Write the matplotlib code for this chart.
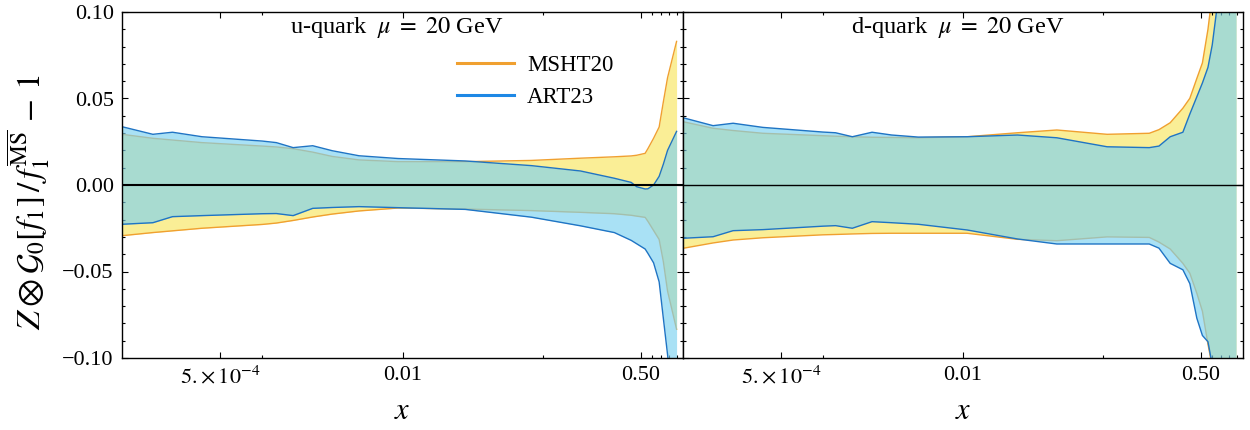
import numpy as np
import matplotlib
matplotlib.use("Agg")
import matplotlib.pyplot as plt
from matplotlib.lines import Line2D
from matplotlib.ticker import FixedLocator, FixedFormatter, MultipleLocator

plt.rcParams['font.family'] = ['Liberation Serif', 'DejaVu Serif']
plt.rcParams['mathtext.fontset'] = 'stix'

# ---------------- data ----------------
# u-quark panel
x_u = [1.0e-4, 1.66e-4, 2.29e-4, 3.72e-4, 1.0e-3, 1.26e-3, 1.66e-3, 2.29e-3,
       3.16e-3, 4.9e-3, 9.3e-3, 0.028, 0.083, 0.186, 0.324, 0.427, 0.468,
       0.537, 0.562, 0.617, 0.676, 0.724, 0.776, 0.90]
u_art_up = [0.0337, 0.0293, 0.0305, 0.0279, 0.0254, 0.0245, 0.0216, 0.0227,
            0.0198, 0.0169, 0.0153, 0.0139, 0.0112, 0.0081, 0.0039, 0.0015,
            -0.0010, -0.0023, -0.0022, 0.0000, 0.0050, 0.0120, 0.0200, 0.0310]
u_art_lo = [-0.0227, -0.0218, -0.0183, -0.0177, -0.0166, -0.0165, -0.0177,
            -0.0135, -0.0130, -0.0125, -0.0131, -0.0141, -0.0186, -0.0236,
            -0.0275, -0.0320, -0.0340, -0.0370, -0.0395, -0.0450, -0.0560,
            -0.0770, -0.0980, -0.1500]
u_msht_up = [0.0293, 0.0270, 0.0260, 0.0245, 0.0225, 0.0220, 0.0210, 0.0190,
             0.0165, 0.0145, 0.0135, 0.0135, 0.0142, 0.0155, 0.0163, 0.0168,
             0.0172, 0.0183, 0.0210, 0.0270, 0.0335, 0.0480, 0.0620, 0.0830]
u_msht_lo = [-0.0293, -0.0275, -0.0265, -0.0250, -0.0228, -0.0220, -0.0205,
             -0.0185, -0.0168, -0.0150, -0.0133, -0.0139, -0.0148, -0.0158,
             -0.0166, -0.0175, -0.0180, -0.0187, -0.0210, -0.0263, -0.0315,
             -0.0442, -0.0613, -0.0834]

# d-quark panel
x_d = [1.0e-4, 1.64e-4, 2.28e-4, 3.72e-4, 1.0e-3, 1.23e-3, 1.62e-3, 2.24e-3,
       3.09e-3, 4.79e-3, 0.0107, 0.0245, 0.0468, 0.107, 0.214, 0.251, 0.302,
       0.372, 0.417, 0.468, 0.513, 0.562, 0.603, 0.646, 0.90]
d_art_up = [0.0389, 0.0343, 0.0357, 0.0333, 0.0306, 0.0302, 0.0279, 0.0305,
            0.0289, 0.0277, 0.0279, 0.0289, 0.0273, 0.0221, 0.0216, 0.0225,
            0.0279, 0.0305, 0.0410, 0.0510, 0.0590, 0.0680, 0.0810, 0.1000,
            0.2500]
d_art_lo = [-0.0308, -0.0299, -0.0264, -0.0258, -0.0238, -0.0235, -0.0250,
            -0.0212, -0.0218, -0.0227, -0.0260, -0.0312, -0.0341, -0.0341,
            -0.0341, -0.0365, -0.0453, -0.0490, -0.0570, -0.0770, -0.0870,
            -0.0906, -0.1040, -0.1300, -0.3000]
d_msht_up = [0.0366, 0.0328, 0.0315, 0.0299, 0.0285, 0.0282, 0.0279, 0.0276,
             0.0275, 0.0273, 0.0279, 0.0302, 0.0318, 0.0293, 0.0299, 0.0320,
             0.0360, 0.0444, 0.0501, 0.0616, 0.0706, 0.0900, 0.1100, 0.1400,
             0.3000]
d_msht_lo = [-0.0366, -0.0335, -0.0318, -0.0305, -0.0288, -0.0286, -0.0283,
             -0.0280, -0.0279, -0.0279, -0.0279, -0.0314, -0.0322, -0.0300,
             -0.0303, -0.0330, -0.0370, -0.0453, -0.0510, -0.0626, -0.0730,
             -0.0920, -0.1050, -0.1400, -0.3000]

panel_titles = ["u-quark  $\\mu\\ =\\ 20$ GeV", "d-quark  $\\mu\\ =\\ 20$ GeV"]
series_names = ["MSHT20", "ART23"]
xtick_major = [5e-4, 0.01, 0.5]
xtick_labels = ["$5.\\!\\times 10^{-4}$", "0.01", "0.50"]
xtick_minor = [1e-3, 0.1, 0.6, 0.7, 0.8, 0.9]
ytick_vals = [-0.10, -0.05, 0.0, 0.05, 0.10]
ytick_labels = ["\u22120.10", "\u22120.05", "0.00", "0.05", "0.10"]

# ---------------- styling ----------------
C_YELLOW = "#FAEE96"
C_BLUEFILL = "#7CD1F0"
A_BLUEFILL = 0.65
C_ORANGE = "#F0A030"
C_BLUE = "#1F74C4"
C_BLUE_LEG = "#1E88E5"

W, H = 1250, 430
fig = plt.figure(figsize=(W / 100, H / 100), dpi=100)

def ax_rect(x0, x1, y0, y1):
    return [x0 / W, 1 - y1 / H, (x1 - x0) / W, (y1 - y0) / H]

ax1 = fig.add_axes(ax_rect(122, 683, 12, 358))
ax2 = fig.add_axes(ax_rect(683, 1243, 12, 358))

panels = [
    (ax1, x_u, u_msht_lo, u_msht_up, u_art_lo, u_art_up, 1.5),
    (ax2, x_d, d_msht_lo, d_msht_up, d_art_lo, d_art_up, 1.0),
]

for i, (ax, xs, mlo, mup, alo, aup, zlw) in enumerate(panels):
    xs = np.array(xs)
    ax.fill_between(xs, mlo, mup, color=C_YELLOW, lw=0, zorder=1)
    ax.plot(xs, mup, color=C_ORANGE, lw=1.0, zorder=2)
    ax.plot(xs, mlo, color=C_ORANGE, lw=1.0, zorder=2)
    ax.fill_between(xs, alo, aup, color=C_BLUEFILL, alpha=A_BLUEFILL, lw=0, zorder=3)
    ax.plot(xs, aup, color=C_BLUE, lw=1.0, zorder=4)
    ax.plot(xs, alo, color=C_BLUE, lw=1.0, zorder=4)
    ax.axhline(0, color="black", lw=zlw, zorder=5)

    ax.set_xscale("log")
    ax.set_xlim(1e-4, 1.0)
    ax.set_ylim(-0.1, 0.1)
    ax.xaxis.set_major_locator(FixedLocator(xtick_major))
    ax.xaxis.set_major_formatter(FixedFormatter(xtick_labels))
    ax.xaxis.set_minor_locator(FixedLocator(xtick_minor))
    ax.xaxis.set_minor_formatter(FixedFormatter([""] * len(xtick_minor)))
    ax.yaxis.set_major_locator(FixedLocator(ytick_vals))
    ax.yaxis.set_minor_locator(MultipleLocator(0.01))
    if i == 0:
        ax.yaxis.set_major_formatter(FixedFormatter(ytick_labels))
    else:
        ax.set_yticklabels([])
    ax.tick_params(which="both", direction="in", top=True, right=True,
                   labelsize=16, width=0.8, pad=6)
    ax.tick_params(which="major", length=4.5)
    ax.tick_params(which="minor", length=2.5)
    for sp in ax.spines.values():
        sp.set_linewidth(1.0)
        sp.set_zorder(6)
    ax.set_xlabel("$x$", fontsize=22, labelpad=6)
    ax.text(0.49, 0.955, panel_titles[i], transform=ax.transAxes,
            ha="center", va="center", fontsize=17.5)

ax1.set_ylabel("$Z \\otimes \\mathcal{G}_0[f_1]\\,/\\,f_1^{\\overline{\\rm MS}}\\, -\\, 1$",
               fontsize=24)
ax1.yaxis.set_label_coords(-0.125, 0.45)

handles = [Line2D([], [], color=C_ORANGE, lw=2.2),
           Line2D([], [], color=C_BLUE_LEG, lw=2.2)]
ax1.legend(handles, series_names, loc="upper left",
           bbox_to_anchor=(0.597, 0.875), frameon=False, fontsize=16.5,
           handlelength=2.5, handletextpad=0.57, labelspacing=0.45,
           borderpad=0, borderaxespad=0)

fig.savefig("out.png", dpi=100)
